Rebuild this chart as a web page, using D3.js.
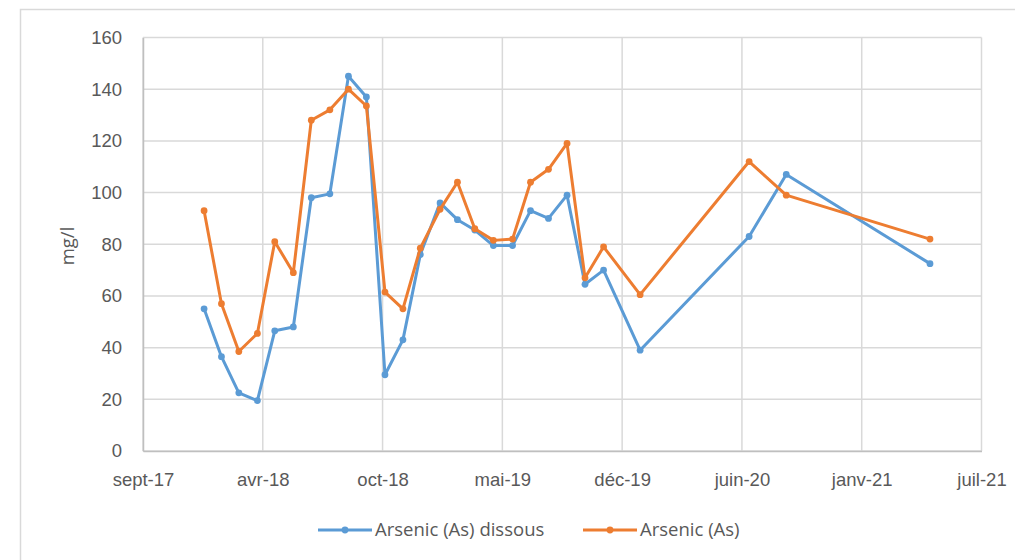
<!DOCTYPE html>
<html>
<head>
<meta charset="utf-8">
<script src="https://cdn.jsdelivr.net/npm/d3@7"></script>
<style>
  html, body { margin: 0; padding: 0; background: #fff; }
  svg { display: block; font-family: "Open Sans", "Liberation Sans", sans-serif; }
</style>
</head>
<body>
<svg id="chart" width="1015" height="560"></svg>
<script>
// Sampling dates (shared by both series)
const dates = [
  "2018-01-02", "2018-01-31", "2018-03-01", "2018-04-01", "2018-04-30", "2018-05-31",
  "2018-06-30", "2018-07-31", "2018-08-31", "2018-09-30", "2018-10-31", "2018-11-30",
  "2018-12-29", "2019-01-31", "2019-03-01", "2019-03-30", "2019-04-30", "2019-06-01",
  "2019-07-01", "2019-07-31", "2019-08-31", "2019-09-30", "2019-10-31", "2019-12-31",
  "2020-06-30", "2020-08-31", "2021-04-28"
];
// Arsenic (As) dissous, mg/l
const arsenicDissous = [
  55, 36.5, 22.5, 19.5, 46.5, 48,
  98, 99.5, 145, 137, 29.5, 43,
  76, 96, 89.5, 85.5, 79.5, 79.5,
  93, 90, 99, 64.5, 70, 39,
  83, 107, 72.5
];
// Arsenic (As) total, mg/l
const arsenicTotal = [
  93, 57, 38.5, 45.5, 81, 69,
  128, 132, 140, 133.5, 61.5, 55,
  78.5, 93.5, 104, 86, 81.5, 82,
  104, 109, 119, 67, 79, 60.5,
  112, 99, 82
];
const seriesNames = ["Arsenic (As) dissous", "Arsenic (As)"];
const seriesColors = ["#5B9BD5", "#ED7D31"];
const yTicks = [0, 20, 40, 60, 80, 100, 120, 140, 160];
// Date axis: 2017-09-22 to 2021-07-23, one tick every 200 days
const axisStart = "2017-09-22";
const tickStepDays = 200;
const tickCount = 8;
const monthNames = ["janv", "févr", "mars", "avr", "mai", "juin", "juil", "août", "sept", "oct", "nov", "déc"];

const parse = d3.utcParse("%Y-%m-%d");
const t0 = parse(axisStart);
const tickDates = d3.range(tickCount).map(i => d3.utcDay.offset(t0, i * tickStepDays));
const fmt = d => monthNames[d.getUTCMonth()] + "-" + String(d.getUTCFullYear()).slice(2);

const svg = d3.select("#chart");
const m = { left: 143, right: 981.5, top: 37.5, bottom: 451 };
const fontSize = "18.5px";
const textColor = "#595959";

// Outer chart frame
svg.append("rect").attr("x", 20.5).attr("y", 9.5).attr("width", 1100).attr("height", 700)
  .attr("fill", "#fff").attr("stroke", "#d9d9d9").attr("stroke-width", 1.5);

const x = d3.scaleUtc().domain([tickDates[0], tickDates[tickDates.length - 1]]).range([m.left, m.right]);
const y = d3.scaleLinear().domain([0, 160]).range([m.bottom, m.top]);

// Gridlines
const grid = svg.append("g");
grid.selectAll("line.h").data(yTicks).join("line")
  .attr("x1", m.left).attr("x2", m.right)
  .attr("y1", d => y(d)).attr("y2", d => y(d))
  .attr("stroke", "#d9d9d9").attr("stroke-width", 1.5);
grid.selectAll("line.v").data(tickDates).join("line")
  .attr("x1", d => x(d)).attr("x2", d => x(d))
  .attr("y1", m.top).attr("y2", m.bottom)
  .attr("stroke", "#d9d9d9").attr("stroke-width", 1.5);

// Axes
const yAxis = svg.append("g").attr("transform", `translate(${m.left},0)`)
  .call(d3.axisLeft(y).tickValues(yTicks).tickSize(0).tickPadding(21));
yAxis.select(".domain").attr("stroke", "#bfbfbf").attr("stroke-width", 1.5);
yAxis.selectAll("text").attr("fill", textColor).style("font-size", fontSize);

const xAxis = svg.append("g").attr("transform", `translate(0,${m.bottom})`)
  .call(d3.axisBottom(x).tickValues(tickDates).tickFormat(fmt).tickSize(0).tickPadding(22));
xAxis.select(".domain").attr("stroke", "#bfbfbf").attr("stroke-width", 1.5);
xAxis.selectAll("text").attr("fill", textColor).style("font-size", fontSize);

// Y axis title
svg.append("text").attr("transform", "translate(74,246) rotate(-90)")
  .attr("text-anchor", "middle").attr("fill", textColor).style("font-size", fontSize).text("mg/l");

// Series
const allSeries = [arsenicDissous, arsenicTotal].map((vals, i) => ({
  name: seriesNames[i], color: seriesColors[i],
  points: vals.map((v, j) => ({ date: parse(dates[j]), value: v }))
}));
const line = d3.line().x(d => x(d.date)).y(d => y(d.value));

// Dissolved series first, total series drawn on top
allSeries.forEach(s => {
  const g = svg.append("g");
  g.append("path").datum(s.points).attr("d", line)
    .attr("fill", "none").attr("stroke", s.color).attr("stroke-width", 3)
    .attr("stroke-linejoin", "round").attr("stroke-linecap", "round");
  g.selectAll("circle").data(s.points).join("circle")
    .attr("cx", d => x(d.date)).attr("cy", d => y(d.value)).attr("r", 3.4)
    .attr("fill", s.color);
});

// Legend
const legend = svg.append("g");
const legendItems = [{ x: 318, s: allSeries[0] }, { x: 583, s: allSeries[1] }];
legendItems.forEach(it => {
  const g = legend.append("g").attr("transform", `translate(${it.x},530)`);
  g.append("line").attr("x1", 0).attr("x2", 54).attr("stroke", it.s.color).attr("stroke-width", 3);
  g.append("circle").attr("cx", 27).attr("r", 3.4).attr("fill", it.s.color);
  g.append("text").attr("x", 57).attr("dy", "0.35em").attr("fill", textColor)
    .style("font-size", fontSize).text(it.s.name);
});
</script>
</body>
</html>
